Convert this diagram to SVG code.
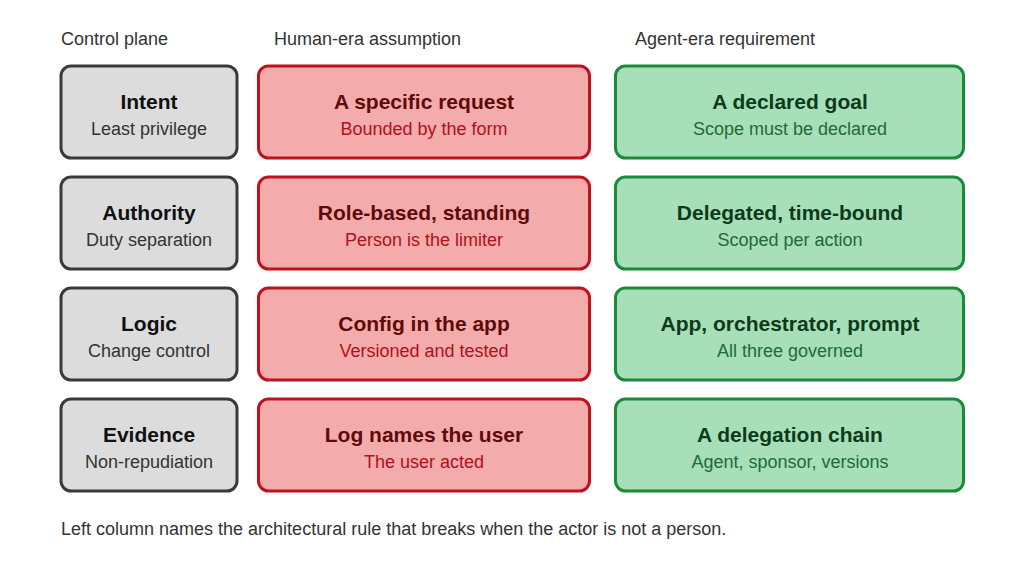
<svg xmlns="http://www.w3.org/2000/svg" width="1023" height="569" viewBox="0 0 1023 569">
<style>
text{font-family:"Liberation Sans",Arial,sans-serif;}
.hdr{font-size:18px;fill:#333;}
.t{font-size:21px;font-weight:bold;text-anchor:middle;}
.s{font-size:18px;text-anchor:middle;}
.g rect{fill:#dcdcdc;stroke:#3a3a3a;stroke-width:3;}
.g .t{fill:#111;}
.g .s{fill:#333;}
.r rect{fill:#f4abab;stroke:#c0111f;stroke-width:3;}
.r .t{fill:#5e0a0a;}
.r .s{fill:#b0101c;}
.n rect{fill:#a6dfb8;stroke:#1b8a3a;stroke-width:3;}
.n .t{fill:#0d3a1a;}
.n .s{fill:#1e6b35;}
</style>
<rect width="1023" height="569" fill="#fff"/>
<text class="hdr" x="61" y="45">Control plane</text>
<text class="hdr" x="274" y="45">Human-era assumption</text>
<text class="hdr" x="635" y="45">Agent-era requirement</text>

<g id="intent" class="g"><rect x="61" y="66" width="176" height="92" rx="10"/><text class="t" x="149" y="109">Intent</text><text class="s" x="149" y="135">Least privilege</text></g>
<g id="human-intent" class="r"><rect x="258.5" y="66" width="331" height="92" rx="10"/><text class="t" x="424" y="109">A specific request</text><text class="s" x="424" y="135">Bounded by the form</text></g>
<g id="agent-intent" class="n"><rect x="615.5" y="66" width="348" height="92" rx="10"/><text class="t" x="790" y="109">A declared goal</text><text class="s" x="790" y="135">Scope must be declared</text></g>

<g id="authority" class="g"><rect x="61" y="177" width="176" height="92" rx="10"/><text class="t" x="149" y="220">Authority</text><text class="s" x="149" y="246">Duty separation</text></g>
<g id="human-authority" class="r"><rect x="258.5" y="177" width="331" height="92" rx="10"/><text class="t" x="424" y="220">Role-based, standing</text><text class="s" x="424" y="246">Person is the limiter</text></g>
<g id="agent-authority" class="n"><rect x="615.5" y="177" width="348" height="92" rx="10"/><text class="t" x="790" y="220">Delegated, time-bound</text><text class="s" x="790" y="246">Scoped per action</text></g>

<g id="logic" class="g"><rect x="61" y="288" width="176" height="92" rx="10"/><text class="t" x="149" y="331">Logic</text><text class="s" x="149" y="357">Change control</text></g>
<g id="human-logic" class="r"><rect x="258.5" y="288" width="331" height="92" rx="10"/><text class="t" x="424" y="331">Config in the app</text><text class="s" x="424" y="357">Versioned and tested</text></g>
<g id="agent-logic" class="n"><rect x="615.5" y="288" width="348" height="92" rx="10"/><text class="t" x="790" y="331">App, orchestrator, prompt</text><text class="s" x="790" y="357">All three governed</text></g>

<g id="evidence" class="g"><rect x="61" y="399" width="176" height="92" rx="10"/><text class="t" x="149" y="442">Evidence</text><text class="s" x="149" y="468">Non-repudiation</text></g>
<g id="human-evidence" class="r"><rect x="258.5" y="399" width="331" height="92" rx="10"/><text class="t" x="424" y="442">Log names the user</text><text class="s" x="424" y="468">The user acted</text></g>
<g id="agent-evidence" class="n"><rect x="615.5" y="399" width="348" height="92" rx="10"/><text class="t" x="790" y="442">A delegation chain</text><text class="s" x="790" y="468">Agent, sponsor, versions</text></g>

<g id="connectors"></g>
<text class="hdr" x="61" y="535">Left column names the architectural rule that breaks when the actor is not a person.</text>
</svg>
